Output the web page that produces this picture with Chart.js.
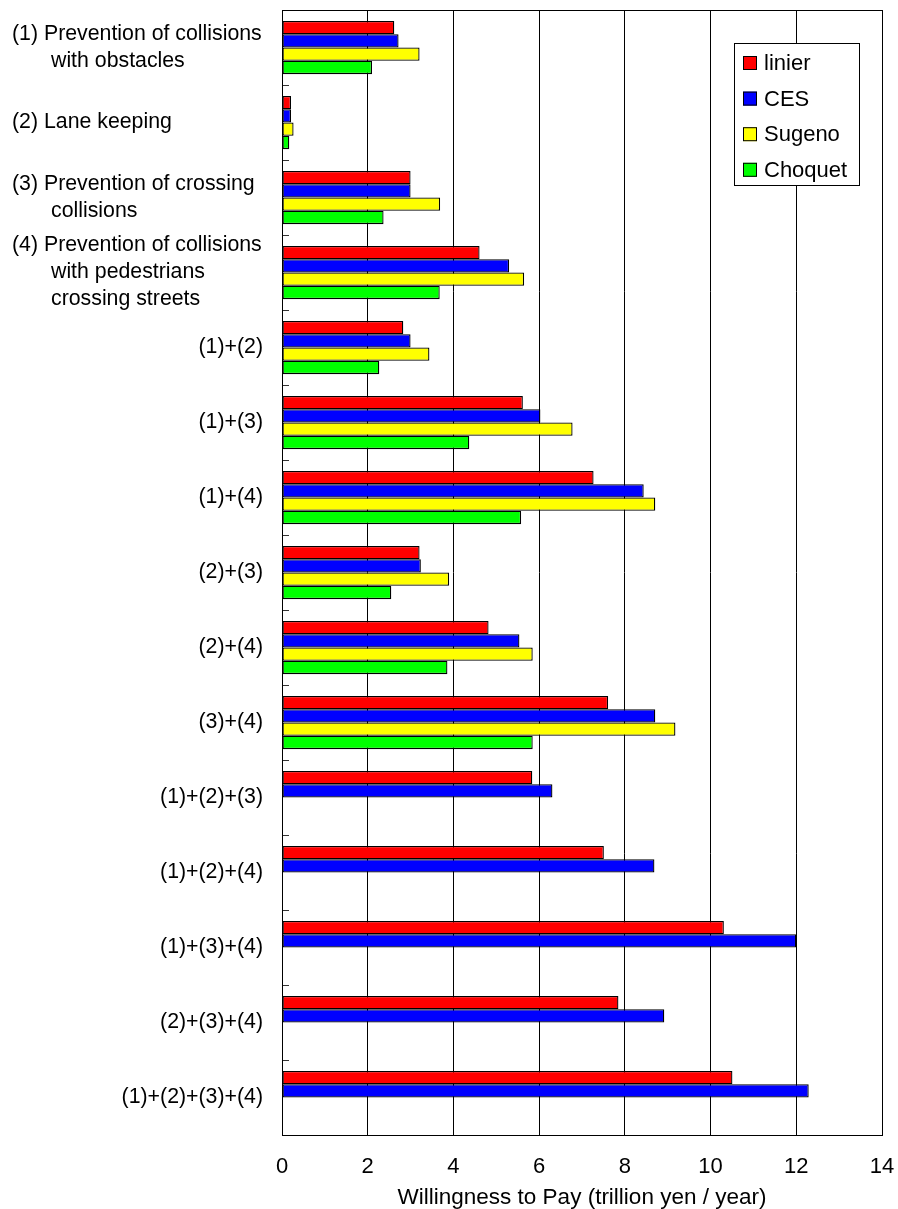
<!DOCTYPE html>
<html>
<head>
<meta charset="utf-8">
<script src="https://cdn.jsdelivr.net/npm/chart.js@4.4.1/dist/chart.umd.min.js"></script>
<style>
  html, body { margin: 0; background: #fff; overflow: hidden; }
  #wrap { width: 898px; height: 1209px; position: relative; }
</style>
</head>
<body>
<div id="wrap"><canvas id="wtpChart"></canvas></div>
<script>
// categorías (cada una con sus líneas de texto)
const categories = [
    ['(1) Prevention of collisions', 'with obstacles'],
    ['(2) Lane keeping'],
    ['(3) Prevention of crossing', 'collisions'],
    ['(4) Prevention of collisions', 'with pedestrians', 'crossing streets'],
    ['(1)+(2)'],
    ['(1)+(3)'],
    ['(1)+(4)'],
    ['(2)+(3)'],
    ['(2)+(4)'],
    ['(3)+(4)'],
    ['(1)+(2)+(3)'],
    ['(1)+(2)+(4)'],
    ['(1)+(3)+(4)'],
    ['(2)+(3)+(4)'],
    ['(1)+(2)+(3)+(4)']
];

const seriesNames = ['linier', 'CES', 'Sugeno', 'Choquet'];
const linier  = [2.62, 0.21, 3.00, 4.61, 2.83, 5.62, 7.27, 3.21, 4.82, 7.61, 5.84, 7.51, 10.31, 7.85, 10.51];
const ces     = [2.72, 0.21, 3.00, 5.30, 3.00, 6.03, 8.44, 3.24, 5.54, 8.71, 6.31, 8.69, 12.00, 8.92, 12.29];
const sugeno  = [3.21, 0.27, 3.69, 5.65, 3.44, 6.78, 8.71, 3.90, 5.85, 9.18, null, null, null, null, null];
const choquet = [2.10, 0.17, 2.37, 3.68, 2.27, 4.37, 5.58, 2.55, 3.86, 5.85, null, null, null, null, null];

const xTicks = [0, 2, 4, 6, 8, 10, 12, 14];
const xTitle = 'Willingness to Pay (trillion yen / year)';

const colors = ['#ff0000', '#0000ff', '#ffff00', '#00ff00'];
const FONT = '"Liberation Sans", Arial, sans-serif';

// etiquetas del eje Y, marcas interiores, marco y leyenda
const decoPlugin = {
    id: 'deco',
    afterDraw(chart) {
        const ctx = chart.ctx;
        const y = chart.scales.y;
        const area = chart.chartArea;
        ctx.save();

        // marcas cortas hacia dentro en los límites de categoría
        ctx.strokeStyle = '#333';
        ctx.lineWidth = 1;
        for (let i = 0; i <= categories.length; i++) {
            const py = Math.round(y.getPixelForValue(i - 0.5)) + 0.5;
            ctx.beginPath();
            ctx.moveTo(area.left, py);
            ctx.lineTo(area.left + 7, py);
            ctx.stroke();
        }

        // marco del área
        ctx.strokeStyle = '#000';
        ctx.strokeRect(Math.round(area.left) + 0.5, Math.round(area.top) + 0.5,
            Math.round(area.right - area.left), Math.round(area.bottom - area.top));

        // etiquetas de categoría
        ctx.fillStyle = '#000';
        ctx.font = '21.3px ' + FONT;
        ctx.textBaseline = 'middle';
        const lh = 27;
        categories.forEach((lines, i) => {
            const cy = y.getPixelForValue(i);
            const y0 = cy - (lines.length - 1) * lh / 2;
            const descriptive = /[a-z]/i.test(lines[0]);
            lines.forEach((txt, k) => {
                if (descriptive) {
                    ctx.textAlign = 'left';
                    ctx.fillText(txt, k === 0 ? 12 : 51, y0 + k * lh);
                } else {
                    ctx.textAlign = 'right';
                    ctx.fillText(txt, 263, y0 + k * lh);
                }
            });
        });

        // leyenda
        const lx = 734, ly = 43, lw = 125, lhBox = 142;
        ctx.fillStyle = '#fff';
        ctx.fillRect(lx, ly, lw, lhBox);
        ctx.strokeStyle = '#000';
        ctx.strokeRect(lx + 0.5, ly + 0.5, lw, lhBox);
        ctx.font = '22px ' + FONT;
        ctx.textAlign = 'left';
        chart.data.datasets.forEach((ds, i) => {
            const cy = 63 + i * 35.6;
            ctx.fillStyle = ds.backgroundColor;
            ctx.fillRect(743, cy - 7, 14, 14);
            ctx.strokeStyle = '#000';
            ctx.strokeRect(743.5, cy - 6.5, 13, 13);
            ctx.fillStyle = '#000';
            ctx.fillText(ds.label, 764, cy + 1);
        });
        ctx.restore();
    }
};

const ctx = document.getElementById('wtpChart').getContext('2d');
new Chart(ctx, {
    type: 'bar',
    data: {
        labels: categories.map(c => c.join(' ')),
        datasets: [linier, ces, sugeno, choquet].map((d, i) => ({
            label: seriesNames[i],
            data: d,
            backgroundColor: colors[i],
            borderColor: '#000',
            borderWidth: 1.3,
            borderSkipped: false,
            categoryPercentage: 0.71,
            barPercentage: 1.0
        }))
    },
    options: {
        indexAxis: 'y',
        responsive: true,
        maintainAspectRatio: false,
        animation: false,
        layout: { padding: { left: 0, top: 10, right: 0, bottom: 0 } },
        plugins: {
            legend: { display: false },
            tooltip: { enabled: false }
        },
        scales: {
            x: {
                min: 0,
                max: 14,
                afterBuildTicks: (scale) => { scale.ticks = xTicks.map(v => ({ value: v })); },
                afterFit: (scale) => {
                    scale.height = 74;
                    scale.paddingLeft = 0;
                    scale.paddingRight = 16;
                },
                grid: { color: '#000', lineWidth: 1, drawTicks: false },
                border: { display: false },
                ticks: { color: '#000', padding: 19, font: { family: FONT, size: 22 } },
                title: {
                    display: true,
                    text: xTitle,
                    color: '#000',
                    padding: { top: 0, bottom: 0 },
                    font: { family: FONT, size: 22.5, lineHeight: 1.0 }
                }
            },
            y: {
                afterFit: (scale) => { scale.width = 282; },
                grid: { display: false },
                border: { display: false },
                ticks: { display: false }
            }
        }
    },
    plugins: [decoPlugin]
});
</script>
</body>
</html>
